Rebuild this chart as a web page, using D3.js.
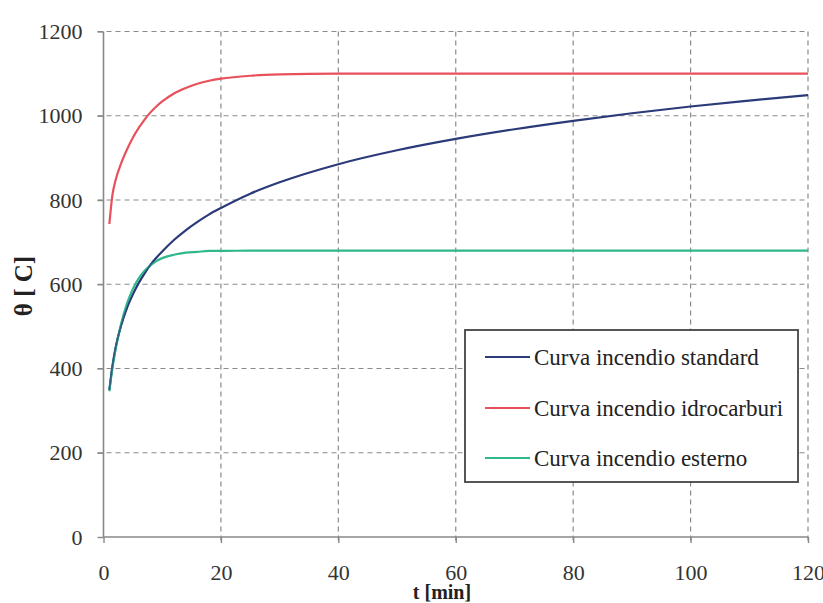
<!DOCTYPE html>
<html>
<head>
<meta charset="utf-8">
<script src="https://cdn.jsdelivr.net/npm/d3@7"></script>
<style>
  html, body { margin: 0; padding: 0; background: #fff; }
  svg { display: block; }
</style>
</head>
<body>
<svg id="chart" width="823" height="603"></svg>
<script>
// Fire curves: gas temperature vs. time
const times = [1, 1.5, 2, 3, 4, 5, 6, 7, 8, 9, 10, 12, 14, 16, 18, 20, 25, 30, 40, 50, 60, 70, 80, 90, 100, 110, 120];
const standardTemp = [349, 404, 445, 502, 544, 576, 603, 626, 646, 663, 678, 705, 728, 748, 766, 781, 815, 842, 885, 918, 945, 968, 988, 1006, 1022, 1036, 1049];
const hydrocarbonTemp = [743, 810, 844, 887, 920, 948, 971, 991, 1008, 1022, 1034, 1053, 1066, 1076, 1083, 1088, 1095, 1098, 1100, 1100, 1100, 1100, 1100, 1100, 1100, 1100, 1100];
const externalTemp = [346, 399, 441, 506, 554, 589, 614, 632, 645, 655, 662, 670, 675, 677, 679, 679, 680, 680, 680, 680, 680, 680, 680, 680, 680, 680, 680];

const seriesNames = ["Curva incendio standard", "Curva incendio idrocarburi", "Curva incendio esterno"];
const seriesColors = ["#2b3a78", "#e8505b", "#2fb88c"];
const xTicks = [0, 20, 40, 60, 80, 100, 120];
const yTicks = [0, 200, 400, 600, 800, 1000, 1200];

const svg = d3.select("#chart");
const font = "'Liberation Serif', 'Times New Roman', serif";

const plot = { left: 103.5, right: 808, top: 31.5, bottom: 537 };
const x = d3.scaleLinear().domain([0, 120]).range([plot.left, plot.right]);
const y = d3.scaleLinear().domain([0, 1200]).range([plot.bottom, plot.top]);

// grid
const grid = svg.append("g").attr("stroke", "#8a8a8a").attr("stroke-width", 1.2)
  .attr("stroke-dasharray", "5,4").attr("fill", "none");
grid.selectAll(".hg").data(yTicks.filter(d => d > 0)).join("line")
  .attr("x1", plot.left - 6).attr("x2", plot.right)
  .attr("y1", d => y(d)).attr("y2", d => y(d));
grid.selectAll(".vg").data(xTicks.filter(d => d > 0)).join("line")
  .attr("x1", d => x(d)).attr("x2", d => x(d))
  .attr("y1", plot.top).attr("y2", plot.bottom + 5);

// axes
const yAxis = svg.append("g").attr("transform", `translate(${plot.left},0)`)
  .call(d3.axisLeft(y).tickValues(yTicks).tickFormat(d3.format("d")).tickSize(6).tickPadding(15));
const xAxis = svg.append("g").attr("transform", `translate(0,${plot.bottom})`)
  .call(d3.axisBottom(x).tickValues(xTicks).tickFormat(d3.format("d")).tickSize(6).tickPadding(21));
[xAxis, yAxis].forEach(a => {
  a.attr("font-family", font).attr("font-size", 22);
  a.select(".domain").attr("stroke", "#888").attr("stroke-width", 1.6);
  a.selectAll(".tick line").attr("stroke", "#888").attr("stroke-width", 1.4);
  a.selectAll(".tick text").attr("fill", "#333");
});
yAxis.select(".domain").attr("d", `M0,${plot.bottom}V${plot.top}`);
xAxis.select(".domain").attr("d", `M${plot.left},0H${plot.right}`);

// curves
const line = d3.line().curve(d3.curveMonotoneX);
[standardTemp, hydrocarbonTemp, externalTemp].forEach((vals, i) => {
  svg.append("path")
    .attr("d", line(times.map((t, k) => [x(t), y(vals[k])])))
    .attr("fill", "none").attr("stroke", seriesColors[i]).attr("stroke-width", 2.2);
});
// standard curve drawn again on top where it overlaps the external one
svg.append("path")
  .attr("d", line(times.slice(0, 10).map((t, k) => [x(t), y(standardTemp[k])])))
  .attr("fill", "none").attr("stroke", seriesColors[0]).attr("stroke-width", 1.6).attr("opacity", 0.7);

// axis titles
svg.append("text").attr("x", 442).attr("y", 599).attr("text-anchor", "middle")
  .attr("font-family", font).attr("font-size", 20).attr("font-weight", "bold").attr("fill", "#222")
  .text("t [min]");
svg.append("text").attr("transform", "translate(32,286) rotate(-90)").attr("text-anchor", "middle")
  .attr("font-family", font).attr("font-size", 25).attr("font-weight", "bold").attr("fill", "#222")
  .text("θ [ C]");

// legend
const lg = svg.append("g");
lg.append("rect").attr("x", 465).attr("y", 330).attr("width", 333).attr("height", 152)
  .attr("fill", "#fff").attr("stroke", "#444").attr("stroke-width", 1.8);
const rowsY = [357, 408, 458];
seriesNames.forEach((name, i) => {
  lg.append("line").attr("x1", 485).attr("x2", 530).attr("y1", rowsY[i]).attr("y2", rowsY[i])
    .attr("stroke", seriesColors[i]).attr("stroke-width", 2.2);
  lg.append("text").attr("x", 534).attr("y", rowsY[i]).attr("dy", "0.35em")
    .attr("font-family", font).attr("font-size", 23).attr("fill", "#222").text(name);
});
</script>
</body>
</html>
